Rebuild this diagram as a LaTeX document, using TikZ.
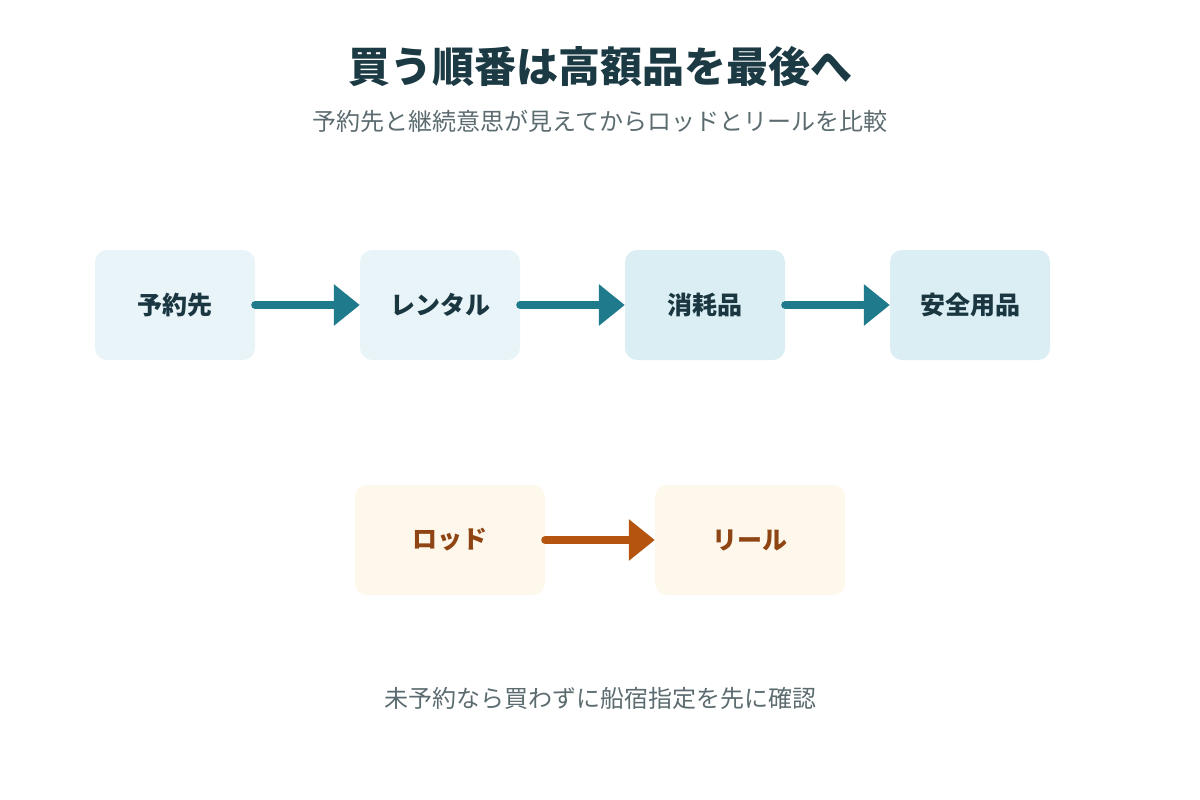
\documentclass[tikz,border=0pt]{standalone}
\usepackage{fontspec}
\setmainfont{Noto Sans CJK JP}
\usetikzlibrary{arrows.meta}
\definecolor{titlec}{HTML}{1C3A44}
\definecolor{subc}{HTML}{5B6B70}
\definecolor{boxa}{HTML}{E8F4F7}
\definecolor{boxb}{HTML}{DAEEF3}
\definecolor{teal}{HTML}{1F7A8C}
\definecolor{boxtext}{HTML}{1A3640}
\definecolor{orangebox}{HTML}{FEF7EB}
\definecolor{orangearr}{HTML}{B5540F}
\definecolor{orangetext}{HTML}{8E4513}
\tikzset{
  stepbox/.style={rounded corners=12pt, minimum width=160pt, minimum height=110pt, inner sep=0pt, font=\bfseries\fontsize{25pt}{29pt}\selectfont, text=boxtext},
  lowbox/.style={rounded corners=12pt, minimum width=190pt, minimum height=110pt, inner sep=0pt, fill=orangebox, font=\bfseries\fontsize{25pt}{29pt}\selectfont, text=orangetext},
  tealarrow/.style={draw=teal, line width=8pt, line cap=round, -{Triangle[length=26pt,width=40pt]}},
  orangearrow/.style={draw=orangearr, line width=8pt, line cap=round, -{Triangle[length=26pt,width=40pt]}},
}
\begin{document}
\begin{tikzpicture}[x=1pt,y=-1pt]
\useasboundingbox (0,0) rectangle (1200,800);
\node[font=\bfseries\fontsize{42pt}{48pt}\selectfont, text=titlec] (title) at (600,67) {買う順番は高額品を最後へ};
\node[font=\fontsize{24pt}{28pt}\selectfont, text=subc] (sub) at (600,121) {予約先と継続意思が見えてからロッドとリールを比較};
\node[stepbox, fill=boxa] (a) at (175,305) {予約先};
\node[stepbox, fill=boxa] (b) at (440,305) {レンタル};
\node[stepbox, fill=boxb] (c) at (705,305) {消耗品};
\node[stepbox, fill=boxb] (d) at (970,305) {安全用品};
\draw[tealarrow] (a.east) -- (b.west);
\draw[tealarrow] (b.east) -- (c.west);
\draw[tealarrow] (c.east) -- (d.west);
\node[lowbox] (rod) at (450,540) {ロッド};
\node[lowbox] (reel) at (750,540) {リール};
\draw[orangearrow] (rod.east) -- (reel.west);
\node[font=\fontsize{24pt}{28pt}\selectfont, text=subc] (note) at (600,698) {未予約なら買わずに船宿指定を先に確認};
\end{tikzpicture}
\end{document}
